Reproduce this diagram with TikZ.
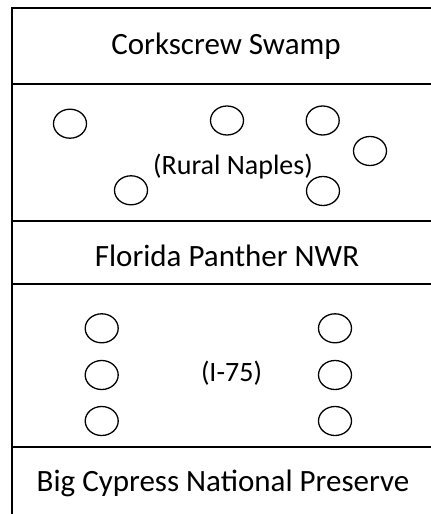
\documentclass[tikz,border=0pt]{standalone}
\usepackage{fontspec}
\setmainfont{Carlito}
\usetikzlibrary{shapes.geometric}
\begin{document}
\begin{tikzpicture}[x=1pt,y=-1pt,
  band/.style={draw=black,line width=2pt},
  bigtext/.style={anchor=base,inner sep=0pt,font=\fontsize{31}{36}\selectfont},
  smalltext/.style={anchor=base,inner sep=0pt,font=\fontsize{28}{32}\selectfont},
  tree/.style={draw=black,line width=1.3pt,ellipse,minimum width=33pt,minimum height=29pt,inner sep=0pt}]
\useasboundingbox (0,0) rectangle (431,514);
\begin{scope}
\clip (0,0) rectangle (431,514);
\draw[band] (12,7.7) rectangle (445,84);
\draw[band] (12,84) rectangle (445,221);
\draw[band] (12,221) rectangle (445,283.5);
\draw[band] (12,283.5) rectangle (445,447);
\draw[band] (12,447) rectangle (445,530);
\end{scope}
\node[bigtext] (cork) at (226,54.5) {Corkscrew Swamp};
\node[bigtext] (fpnwr) at (227,266.7) {Florida Panther NWR};
\node[bigtext] (bcnp) at (223,491.7) {Big Cypress National Preserve};
\node[smalltext] (rural) at (233,174) {(Rural Naples)};
\node[smalltext] (i75) at (231.5,381.7) {(I-75)};
\node[tree] (r1) at (70,123.7) {};
\node[tree] (r2) at (227,120.5) {};
\node[tree] (r3) at (322.7,120.5) {};
\node[tree] (r4) at (370,151) {};
\node[tree] (r5) at (131,190.3) {};
\node[tree] (r6) at (323,191) {};
\node[tree] (a1) at (101.7,328.3) {};
\node[tree] (a2) at (101.7,375) {};
\node[tree] (a3) at (101.7,421) {};
\node[tree] (b1) at (335,328.3) {};
\node[tree] (b2) at (335,375) {};
\node[tree] (b3) at (335,421) {};
\end{tikzpicture}
\end{document}
